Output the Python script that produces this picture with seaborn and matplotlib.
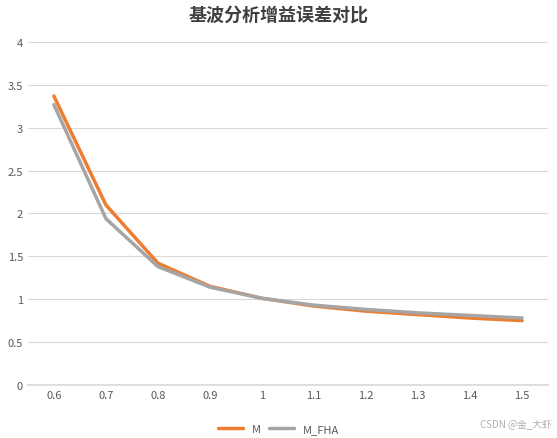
import matplotlib
matplotlib.use("Agg")
import matplotlib.pyplot as plt
import seaborn as sns
import pandas as pd

categories = ["0.6","0.7","0.8","0.9","1","1.1","1.2","1.3","1.4","1.5"]
m_vals = [3.37, 2.10, 1.42, 1.15, 1.01, 0.92, 0.86, 0.82, 0.78, 0.75]
fha_vals = [3.27, 1.94, 1.38, 1.14, 1.01, 0.93, 0.88, 0.84, 0.81, 0.78]

sns.set_theme(style="white")
plt.rcParams['font.family'] = ['Noto Sans CJK SC', 'DejaVu Sans']

df = pd.DataFrame({"x": list(range(len(categories))) * 2,
                   "y": m_vals + fha_vals,
                   "s": ["M"] * len(categories) + ["M_FHA"] * len(categories)})

fig = plt.figure(figsize=(5.57, 4.39), dpi=100)
ax = fig.add_axes([0.05, 0.121, 0.934, 0.781])
sns.lineplot(data=df, x="x", y="y", hue="s", palette=["#ED7D31", "#A5A5A5"],
             linewidth=2.5, ax=ax, legend=False)
ax.set_xlim(-0.5, 9.5)
ax.set_ylim(0, 4)
ax.set_yticks([0, 0.5, 1, 1.5, 2, 2.5, 3, 3.5, 4])
ax.set_yticklabels(["0","0.5","1","1.5","2","2.5","3","3.5","4"])
ax.set_xticks(range(len(categories)))
ax.set_xticklabels(categories)
ax.grid(axis="y", color="#D9D9D9", linewidth=0.8)
for s in ["top", "right", "left"]:
    ax.spines[s].set_visible(False)
ax.spines["bottom"].set_color("#D9D9D9")
ax.tick_params(colors="#595959", labelsize=8, length=0)
ax.set_xlabel(""); ax.set_ylabel("")
fig.text(0.5, 0.965, "基波分析增益误差对比", ha="center", va="center",
         fontsize=13, fontweight="bold", color="#404040")
from matplotlib.lines import Line2D
handles = [Line2D([], [], color="#ED7D31", lw=2.5), Line2D([], [], color="#A5A5A5", lw=2.5)]
fig.legend(handles, ["M", "M_FHA"], loc="center", bbox_to_anchor=(0.5, 0.02),
           ncol=2, frameon=False, fontsize=8, handlelength=2.2, columnspacing=0.8,
           labelcolor="#595959")
fig.text(0.99, 0.035, "CSDN @金_大虾", ha="right", va="center", fontsize=7, color="#B0B0B0")
fig.savefig("out.png", dpi=100)
